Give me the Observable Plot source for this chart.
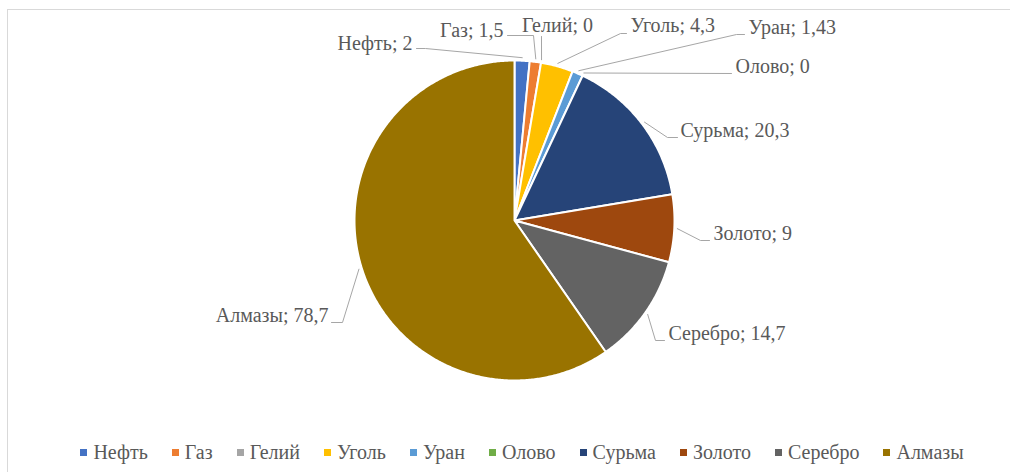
<!DOCTYPE html>
<html>
<head>
<meta charset="utf-8">
<script src="https://cdn.jsdelivr.net/npm/d3@7"></script>
<script src="https://cdn.jsdelivr.net/npm/@observablehq/plot@0.6"></script>
<style>
  html, body { margin: 0; padding: 0; background: #fff; }
  #wrap { position: relative; width: 1010px; height: 472px; overflow: hidden; background: #fff; }
  #chart { position: absolute; left: 0; top: 0; }
  #legend { position: absolute; left: 0; top: 430px; width: 1010px; height: 44px; display: flex; align-items: center; justify-content: center; padding-left: 34px; box-sizing: border-box; }
  #frame { position: absolute; left: 7px; top: 9px; width: 1100px; height: 600px; border-top: 1px solid #d9d9d9; border-left: 1px solid #d9d9d9; pointer-events: none; }
  div.lg-swatches { margin: 0 !important; min-height: 0 !important; justify-content: center; font-family: "Liberation Serif", "Times New Roman", "DejaVu Serif", serif !important; font-size: 20px !important; flex-wrap: nowrap !important; }
  div.lg-swatches .lg-swatch { margin-right: 24px !important; }
  div.lg-swatches .lg-swatch:last-child { margin-right: 0 !important; }
  div.lg-swatches .lg-swatch > svg { margin-right: 6px !important; }
  svg text { font-family: "Liberation Serif", "Times New Roman", "DejaVu Serif", serif !important; }
</style>
</head>
<body>
<div id="wrap">
  <div id="chart"></div>
  <div id="legend"></div>
  <div id="frame"></div>
</div>
<script>
// ---- data ----
const names  = ["Нефть", "Газ", "Гелий", "Уголь", "Уран", "Олово", "Сурьма", "Золото", "Серебро", "Алмазы"];
const values = [2, 1.5, 0, 4.3, 1.43, 0, 20.3, 9, 14.7, 78.7];
const colors = ["#4472C4", "#ED7D31", "#A5A5A5", "#FFC000", "#5B9BD5", "#70AD47", "#264478", "#9E480E", "#636363", "#997300"];

// ---- layout (pixels relative to the pie centre) ----
const W = 1010, H = 430, CX = 514, CY = 220, R = 160;
const labelLayout = {
  "Нефть":   {x: -102, y: -177, anchor: "end",    path: [[-98, -172], [-89, -172]]},
  "Газ":     {x: -11,  y: -190, anchor: "end",    path: [[-7, -185], [19, -185]]},
  "Гелий":   {x: 43,   y: -195, anchor: "middle", path: [[27, -184]]},
  "Уголь":   {x: 116,  y: -195, anchor: "start",  path: [[112, -187], [106, -187]]},
  "Уран":    {x: 234,  y: -193, anchor: "start",  path: [[230, -186], [222, -186]]},
  "Олово":   {x: 221,  y: -154, anchor: "start",  path: [[217, -147]]},
  "Сурьма":  {x: 166,  y: -90,  anchor: "start",  path: [[163, -83], [153, -83]]},
  "Золото":  {x: 199,  y: 13,   anchor: "start",  path: [[195, 20], [186, 20]]},
  "Серебро": {x: 154,  y: 113,  anchor: "start",  path: [[150, 120], [141, 120]]},
  "Алмазы":  {x: -186, y: 95,   anchor: "end",    path: [[-183, 102], [-172, 102]]}
};

const data = names.map((name, i) => ({name, value: values[i]}));
const arcs = d3.pie().sort(null).value(d => d.value)(data);

// slice polygons
const slicePts = [];
for (const a of arcs) {
  if (a.endAngle - a.startAngle <= 0) continue;
  const n = Math.max(2, Math.ceil((a.endAngle - a.startAngle) / (Math.PI / 360)));
  slicePts.push({name: a.data.name, px: 0, py: 0});
  for (let k = 0; k <= n; k++) {
    const t = a.startAngle + (a.endAngle - a.startAngle) * k / n;
    slicePts.push({name: a.data.name, px: R * Math.sin(t), py: -R * Math.cos(t)});
  }
}

// labels & leaders
const fmt = v => String(v).replace(".", ",");
const labels = arcs.map(a => {
  const L = labelLayout[a.data.name];
  return {name: a.data.name, text: `${a.data.name}; ${fmt(a.data.value)}`, x: L.x, y: L.y, anchor: L.anchor};
});
const leaders = [];
for (const a of arcs) {
  const L = labelLayout[a.data.name];
  const mid = (a.startAngle + a.endAngle) / 2;
  const pts = [...L.path, [(R + 3) * Math.sin(mid), -(R + 3) * Math.cos(mid)]];
  for (const [px, py] of pts) leaders.push({name: a.data.name, px, py});
}

const FONT = '"Liberation Serif", "Times New Roman", "DejaVu Serif", serif';
const textOpts = {fontFamily: FONT, fontSize: 20, fill: "#595959"};

const chart = Plot.plot({
  width: W,
  height: H,
  margin: 0,
  x: {domain: [-CX, W - CX], range: [0, W], axis: null},
  y: {domain: [-CY, H - CY], range: [0, H], axis: null},
  color: {domain: names, range: colors},
  style: {background: "transparent", fontFamily: FONT},
  marks: [
    Plot.line(slicePts, {x: "px", y: "py", z: "name", fill: "name", stroke: "white", strokeWidth: 2, strokeLinejoin: "round", curve: "linear-closed"}),
    Plot.line(leaders, {x: "px", y: "py", z: "name", stroke: "#a6a6a6", strokeWidth: 1}),
    ...["start", "middle", "end"].map(anchor =>
      Plot.text(labels.filter(d => d.anchor === anchor), {x: "x", y: "y", text: "text", textAnchor: anchor, ...textOpts})
    )
  ]
});
document.getElementById("chart").appendChild(chart);

const legend = Plot.legend({
  color: {domain: names, range: colors},
  legend: "swatches",
  swatchSize: 7,
  className: "lg",
  style: {fontFamily: FONT, fontSize: "20px", color: "#595959", background: "transparent"}
});
document.getElementById("legend").appendChild(legend);
</script>
</body>
</html>
